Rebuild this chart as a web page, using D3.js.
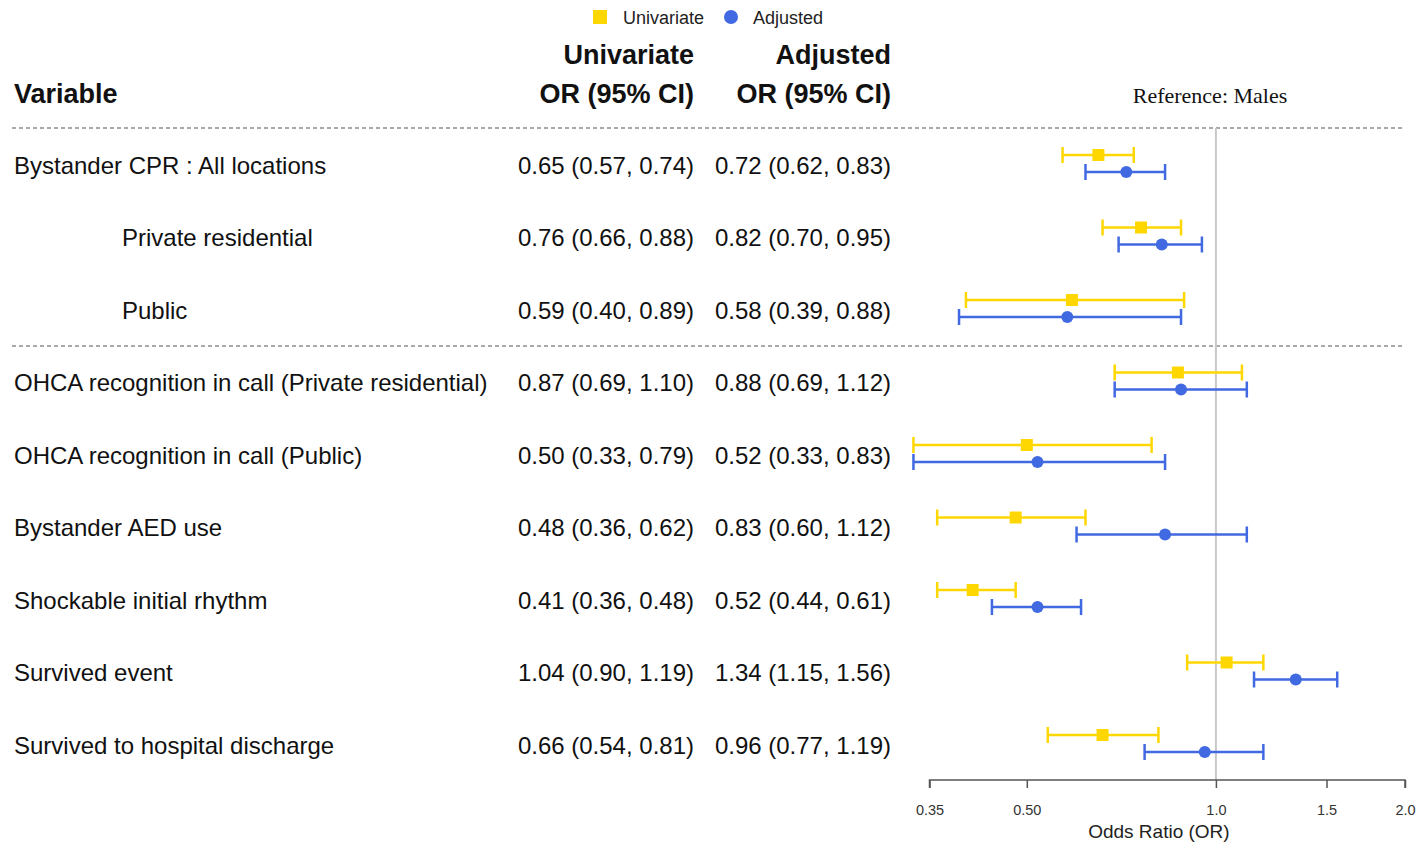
<!DOCTYPE html>
<meta charset="utf-8">
<style>
html, body { margin: 0; background: #fff; }
svg { display: block; font-family: "Liberation Sans", Arial, sans-serif; }
.lbl { font-size: 24px; fill: #111; }
.hdr { font-size: 27px; font-weight: bold; fill: #111; }
.axis text { font-size: 14.5px; fill: #333; font-family: "Liberation Sans", Arial, sans-serif; }
.axis path, .axis line { stroke: #555; stroke-width: 1.5; }
</style>
<body>
<svg class="chart" width="1421" height="844"></svg>
<script src="https://cdn.jsdelivr.net/npm/d3@7"></script>
<script>
"use strict";

var variables = ["Bystander CPR : All locations", "Private residential", "Public",
  "OHCA recognition in call (Private residential)", "OHCA recognition in call (Public)",
  "Bystander AED use", "Shockable initial rhythm", "Survived event", "Survived to hospital discharge"];
var indented = [false, true, true, false, false, false, false, false, false];

var uniOR = [0.65, 0.76, 0.59, 0.87, 0.50, 0.48, 0.41, 1.04, 0.66];
var uniLo = [0.57, 0.66, 0.40, 0.69, 0.33, 0.36, 0.36, 0.90, 0.54];
var uniHi = [0.74, 0.88, 0.89, 1.10, 0.79, 0.62, 0.48, 1.19, 0.81];
var adjOR = [0.72, 0.82, 0.58, 0.88, 0.52, 0.83, 0.52, 1.34, 0.96];
var adjLo = [0.62, 0.70, 0.39, 0.69, 0.33, 0.60, 0.44, 1.15, 0.77];
var adjHi = [0.83, 0.95, 0.88, 1.12, 0.83, 1.12, 0.61, 1.56, 1.19];
var tickVals = [0.35, 0.5, 1.0, 1.5, 2.0];
var tickLabels = ["0.35", "0.50", "1.0", "1.5", "2.0"];

var yellow = "#FFD700", blue = "#4169E1";

var svg = d3.select(".chart");

var x = d3.scaleLog().domain([0.35, 2]).range([929.5, 1405]);
var y = d3.scaleLinear().domain([0, 8]).range([165, 745]);

function fmt(o, l, h) {
  return o.toFixed(2) + " (" + l.toFixed(2) + ", " + h.toFixed(2) + ")";
}

// legend
svg.append("rect").attr("x", 593).attr("y", 10).attr("width", 14).attr("height", 14).attr("fill", yellow);
svg.append("text").attr("x", 623).attr("y", 24).style("font-size", "18px").attr("fill", "#222").text("Univariate");
svg.append("circle").attr("cx", 731).attr("cy", 17).attr("r", 7).attr("fill", blue);
svg.append("text").attr("x", 753).attr("y", 24).style("font-size", "18px").attr("fill", "#222").text("Adjusted");

// headers
svg.append("text").attr("class", "hdr").attr("x", 14).attr("y", 103).text("Variable");
svg.append("text").attr("class", "hdr").attr("x", 694).attr("y", 64).attr("text-anchor", "end").text("Univariate");
svg.append("text").attr("class", "hdr").attr("x", 694).attr("y", 103).attr("text-anchor", "end").text("OR (95% CI)");
svg.append("text").attr("class", "hdr").attr("x", 891).attr("y", 64).attr("text-anchor", "end").text("Adjusted");
svg.append("text").attr("class", "hdr").attr("x", 891).attr("y", 103).attr("text-anchor", "end").text("OR (95% CI)");
svg.append("text").attr("x", 1210).attr("y", 103).attr("text-anchor", "middle")
  .style("font-family", "'Liberation Serif', 'Times New Roman', serif").style("font-size", "22px")
  .attr("fill", "#111").text("Reference: Males");

// dashed separators
[128, 346].forEach(function (yy) {
  svg.append("line").attr("x1", 12).attr("x2", 1405).attr("y1", yy).attr("y2", yy)
    .attr("stroke", "#555").attr("stroke-width", 1.2).attr("stroke-dasharray", "4,3");
});

// reference line
svg.append("line").attr("x1", x(1)).attr("x2", x(1)).attr("y1", 128).attr("y2", 780)
  .attr("stroke", "#c8c8c8").attr("stroke-width", 2);

// text rows
var rows = svg.append("g").selectAll("g").data(variables).enter().append("g");
rows.append("text").attr("class", "lbl")
  .attr("x", function (d, i) { return indented[i] ? 122 : 14; })
  .attr("y", function (d, i) { return y(i) + 8.5; })
  .text(function (d) { return d; });
rows.append("text").attr("class", "lbl").attr("text-anchor", "end").attr("x", 694)
  .attr("y", function (d, i) { return y(i) + 8.5; })
  .text(function (d, i) { return fmt(uniOR[i], uniLo[i], uniHi[i]); });
rows.append("text").attr("class", "lbl").attr("text-anchor", "end").attr("x", 891)
  .attr("y", function (d, i) { return y(i) + 8.5; })
  .text(function (d, i) { return fmt(adjOR[i], adjLo[i], adjHi[i]); });

// error bars
function drawSeries(or, lo, hi, color, dy, shape) {
  var g = svg.append("g");
  var s = g.selectAll("g").data(or).enter().append("g")
    .attr("transform", function (d, i) { return "translate(0," + (y(i) + dy) + ")"; });
  s.append("line").attr("x1", function (d, i) { return x(lo[i]); })
    .attr("x2", function (d, i) { return x(hi[i]); })
    .attr("stroke", color).attr("stroke-width", 2.5);
  [lo, hi].forEach(function (arr) {
    s.append("line").attr("x1", function (d, i) { return x(arr[i]); })
      .attr("x2", function (d, i) { return x(arr[i]); })
      .attr("y1", -8).attr("y2", 8).attr("stroke", color).attr("stroke-width", 2.5);
  });
  if (shape === "square") {
    s.append("rect").attr("x", function (d) { return x(d) - 6; }).attr("y", -6)
      .attr("width", 12).attr("height", 12).attr("fill", color);
  } else {
    s.append("circle").attr("cx", function (d) { return x(d); }).attr("r", 6).attr("fill", color);
  }
}
drawSeries(uniOR, uniLo, uniHi, yellow, -10, "square");
drawSeries(adjOR, adjLo, adjHi, blue, 7, "circle");

// axis
var axis = svg.append("g").attr("class", "axis").attr("transform", "translate(0,780)")
  .call(d3.axisBottom(x).tickValues(tickVals).tickSize(8).tickPadding(17)
    .tickFormat(function (d, i) { return tickLabels[i]; }));
axis.select(".domain").attr("d", "M" + x(0.35) + ",8V0H" + x(2) + "V8");
axis.selectAll(".tick line").attr("y2", 8);

svg.append("text").attr("x", x(1) - 57).attr("y", 838).attr("text-anchor", "middle")
  .style("font-size", "19px").attr("fill", "#222").text("Odds Ratio (OR)");
</script>
</body>
